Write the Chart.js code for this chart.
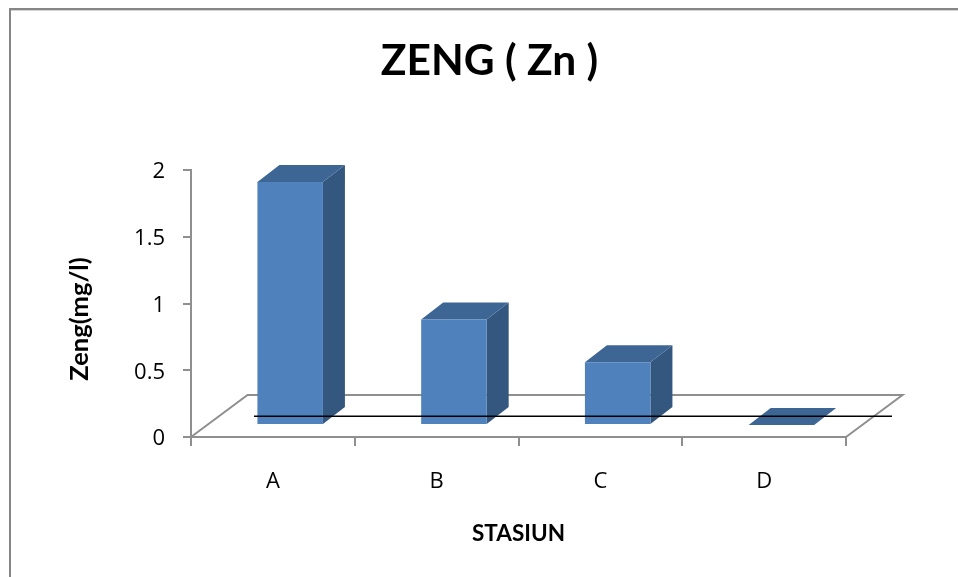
<!DOCTYPE html>
<html>
<head>
<meta charset="utf-8">
<style>
  html, body { margin: 0; padding: 0; background: #fff; }
  #wrap { width: 958px; height: 577px; }
</style>
<script src="https://cdn.jsdelivr.net/npm/chart.js@4"></script>
</head>
<body>
<div id="wrap"><canvas id="chart" width="958" height="577"></canvas></div>
<script>
const categories = ['A', 'B', 'C', 'D'];
const zincValues = [1.82, 0.79, 0.47, 0];
const referenceLevel = [0.155];
const chartTitle = 'ZENG ( Zn )';
const xTitle = 'STASIUN';
// The trailing spaces push the rotated title below the axis midpoint.
const yTitle = 'Zeng(mg/l)     ';

const FONT = 'Lato, "Open Sans", sans-serif';
const TICK_FONT = '"Open Sans", Lato, sans-serif';
const AXIS_GREY = '#8f8f8f';
const FRONT = '#4f81bd';
const SIDE = '#33577f';
const TOP = '#3d6695';

// Oblique projection of the bars and the floor.
const barShift = { x: 17.3, y: -12 };
const barDepth = { x: 22, y: -17 };
const floorDepth = { x: 56.5, y: -42 };

const pseudo3d = {
  id: 'pseudo3d',
  beforeDraw(chart) {
    const { ctx } = chart;
    // Frame of the chart object, open at the right and the bottom.
    ctx.save();
    ctx.fillStyle = '#868686';
    ctx.fillRect(9, 8, 949, 2);
    ctx.fillRect(9, 8, 2, 569);
    ctx.fillStyle = '#d4d4d4';
    ctx.fillRect(11, 10, 947, 1);
    ctx.restore();
  },
  beforeDatasetsDraw(chart) {
    const { ctx, chartArea: a } = chart;
    ctx.save();
    ctx.strokeStyle = AXIS_GREY;
    ctx.lineWidth = 2;
    ctx.lineJoin = 'miter';
    ctx.beginPath();
    ctx.moveTo(a.left, a.bottom);
    ctx.lineTo(a.left + floorDepth.x, a.bottom + floorDepth.y);
    ctx.lineTo(a.right + floorDepth.x, a.bottom + floorDepth.y);
    ctx.lineTo(a.right, a.bottom);
    ctx.stroke();
    ctx.restore();
  },
  beforeDatasetDraw(chart, args) {
    const { ctx } = chart;
    const meta = chart.getDatasetMeta(args.index);
    if (meta.type !== 'bar') return;
    ctx.save();
    ctx.translate(barShift.x, barShift.y);
    meta.data.forEach((bar) => {
      const l = bar.x - bar.width / 2;
      const r = bar.x + bar.width / 2;
      const dx = barDepth.x;
      const dy = barDepth.y;
      ctx.fillStyle = SIDE;
      ctx.beginPath();
      ctx.moveTo(r, bar.y);
      ctx.lineTo(r + dx, bar.y + dy);
      ctx.lineTo(r + dx, bar.base + dy);
      ctx.lineTo(r, bar.base);
      ctx.closePath();
      ctx.fill();
      ctx.fillStyle = TOP;
      ctx.beginPath();
      ctx.moveTo(l, bar.y);
      ctx.lineTo(l + dx, bar.y + dy);
      ctx.lineTo(r + dx, bar.y + dy);
      ctx.lineTo(r, bar.y);
      ctx.closePath();
      ctx.fill();
    });
  },
  afterDatasetDraw(chart, args) {
    if (chart.getDatasetMeta(args.index).type === 'bar') chart.ctx.restore();
  },
  afterDatasetsDraw(chart) {
    // Thin black rule laid across the bars.
    const { ctx, chartArea: a, scales } = chart;
    const y = scales.y.getPixelForValue(referenceLevel[0]);
    ctx.save();
    ctx.strokeStyle = '#000';
    ctx.lineWidth = 1.5;
    ctx.beginPath();
    ctx.moveTo(a.left + 63, y);
    ctx.lineTo(a.right + 46, y);
    ctx.stroke();
    ctx.restore();
  }
};

new Chart(document.getElementById('chart'), {
  type: 'bar',
  plugins: [pseudo3d],
  data: {
    labels: categories,
    datasets: [{
      label: 'Zn',
      data: zincValues,
      backgroundColor: FRONT,
      borderWidth: 0,
      barPercentage: 0.4,
      categoryPercentage: 1,
      clip: false
    }]
  },
  options: {
    responsive: false,
    animation: false,
    layout: { padding: { left: 21, right: 0, top: 0, bottom: 0 } },
    plugins: {
      legend: { display: false },
      tooltip: { enabled: false },
      title: {
        display: true,
        text: chartTitle,
        color: '#000',
        font: { family: FONT, size: 42.5, weight: 'bold', lineHeight: 1.2 },
        padding: { top: 35.5, bottom: 83.5 }
      }
    },
    scales: {
      x: {
        afterFit(scale) { scale.height = 140; },
        grid: { drawOnChartArea: false, color: AXIS_GREY, lineWidth: 2, tickLength: 9 },
        border: { color: AXIS_GREY, width: 2 },
        ticks: { color: '#000', padding: 23, maxRotation: 0, font: { family: TICK_FONT, size: 22 } },
        title: {
          display: true,
          text: xTitle,
          color: '#000',
          font: { family: FONT, size: 22.5, weight: 'bold', lineHeight: 1.2 },
          padding: { top: 30, bottom: 30 }
        }
      },
      y: {
        min: 0,
        max: 2,
        afterFit(scale) { scale.width = 170; },
        grid: { drawOnChartArea: false, color: AXIS_GREY, lineWidth: 2, tickLength: 8 },
        border: { color: AXIS_GREY, width: 2 },
        ticks: {
          stepSize: 0.5,
          color: '#000',
          padding: 18,
          labelOffset: 2,
          font: { family: TICK_FONT, size: 22 },
          callback: (value) => String(value)
        },
        title: {
          display: true,
          text: yTitle,
          color: '#000',
          font: { family: FONT, size: 25.5, weight: 'bold', lineHeight: 1.2 },
          padding: { top: 43, bottom: 43 }
        }
      },
      margin: {
        position: 'right',
        afterFit(scale) { scale.width = 112; },
        grid: { display: false },
        border: { display: false },
        ticks: { display: false }
      }
    }
  }
});
</script>
</body>
</html>
